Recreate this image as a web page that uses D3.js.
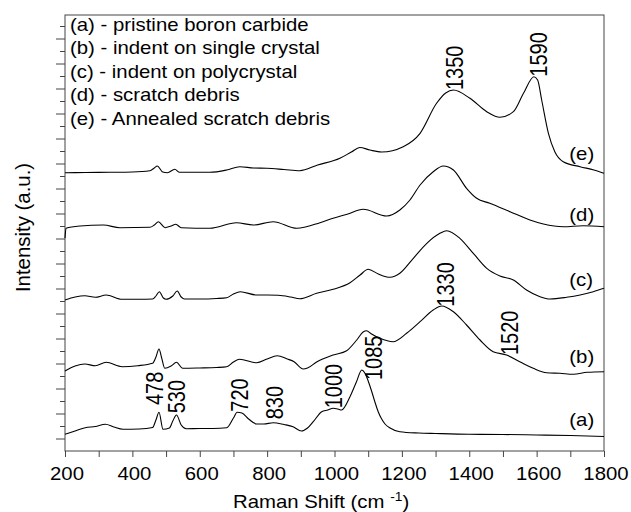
<!DOCTYPE html>
<html><head><meta charset="utf-8">
<script src="https://cdn.jsdelivr.net/npm/d3@7"></script>
<style>
body{margin:0;background:#fff}
svg{display:block}
text{font-family:"Liberation Sans",Arial,Helvetica,sans-serif;fill:#000}
</style>
</head><body>
<svg id="c" width="631" height="512"></svg>
<script>
// ---------- data ----------
const seriesNames = ["(a)", "(b)", "(c)", "(d)", "(e)"];
const legendLabels = [
  "(a) - pristine boron carbide",
  "(b) - indent on single crystal",
  "(c) - indent on polycrystal",
  "(d) - scratch debris",
  "(e) - Annealed scratch debris"
];
// [Raman shift (cm-1), intensity (a.u., offset stacked)]
const spectrumA = [[200,16.7],[230,20],[260,23.3],[290,24.5],[320,26.7],[345,24],[372,21.7],[420,22],[460,23.5],[470,31],[479,38.7],[491,21.7],[510,23],[520,30],[531,36],[545,26],[560,22.3],[600,22.5],[640,22.5],[680,23.3],[700,33],[711,38.7],[725,38],[745,32],[769,27],[790,27],[818,28.3],[850,26.5],[877,24.3],[902,20],[920,23],[937,29.3],[962,39.3],[980,41],[996,42.7],[1010,42],[1021,41],[1046,54.3],[1065,69],[1081,81],[1090,78],[1100,70],[1110,60],[1120,49],[1130,39],[1140,32],[1150,27],[1165,23],[1194,19.3],[1250,18],[1300,17.5],[1400,16.7],[1500,16.5],[1600,16],[1700,15.5],[1800,14.5]];
const spectrumB = [[200,80],[230,85],[259,87],[290,85.3],[322,88.7],[370,84.3],[416,85.3],[460,87.7],[470,94],[479,102],[487,93],[496,82.7],[515,85],[531,88.7],[549,82.7],[600,83],[650,83.5],[680,84.3],[700,89],[718,91.7],[769,88.3],[800,92],[830,95.3],[860,92],[880,89.3],[907,82],[920,83],[947,89],[996,96],[1036,100.3],[1066,111],[1085,119],[1095,120.3],[1110,117],[1135,112.7],[1174,109.3],[1214,117.7],[1254,129.3],[1293,141],[1318,145],[1353,139.3],[1392,126],[1432,111],[1471,99.3],[1511,96],[1550,89.3],[1590,82.7],[1630,78.3],[1669,77.7],[1709,76.7],[1750,78.7],[1800,79.3]];
const spectrumC = [[200,151],[230,154],[259,155.3],[290,153.7],[322,156],[370,151.7],[420,151.7],[460,152],[470,155],[480,159.3],[492,153],[500,151.7],[520,155],[533,160],[545,154],[555,152],[600,152],[650,152.5],[680,153.3],[700,157],[720,159.3],[769,156],[800,156],[833,155.7],[870,154],[897,152.3],[947,157.7],[996,161.7],[1046,168.3],[1076,176],[1100,181.7],[1130,177],[1165,173.7],[1194,177.7],[1234,192.7],[1274,207.7],[1313,217.7],[1333,220.3],[1372,212.7],[1412,197.7],[1452,182.7],[1491,175],[1531,171],[1570,161],[1610,154.3],[1640,152],[1689,153.7],[1729,156],[1768,159.3],[1800,162.7]];
const spectrumD = [[200,213],[203,222.7],[245,225],[314,226],[363,223.3],[452,223.7],[465,226],[477,229.3],[497,223.3],[515,225],[529,226.7],[545,223.3],[630,222.7],[709,228.3],[759,226],[818,229.3],[888,222.7],[957,228.3],[996,232.7],[1040,237],[1085,241.7],[1155,235],[1194,241],[1224,251],[1254,266],[1293,279.3],[1323,285],[1353,281],[1392,262.7],[1422,252.7],[1461,247.7],[1521,239.3],[1580,231],[1620,227],[1679,224.3],[1738,225.3],[1800,224.3]];
const spectrumE = [[200,278.3],[260,278.5],[334,278.7],[400,279],[452,280.3],[465,283],[474,285],[490,279],[504,278.3],[526,281.7],[540,278.7],[630,278.7],[680,281],[719,284.3],[760,283],[799,282.7],[850,281.5],[897,280.3],[950,286],[1016,292.7],[1050,299],[1075,303.5],[1105,301],[1140,299],[1204,304.3],[1254,317.7],[1303,347.7],[1330,358],[1353,361],[1402,352.7],[1452,339.3],[1491,333.7],[1531,339.3],[1561,357.7],[1592,374.3],[1603,371],[1615,351],[1635,317.7],[1654,299.3],[1679,289.3],[1729,284.3],[1770,281],[1800,277.7]];
const spectra = [spectrumA, spectrumB, spectrumC, spectrumD, spectrumE];

// peak annotations (text, centre in cm-1, start intensity)
const peakLabels = ["478", "530", "720", "830", "1000", "1085", "1330", "1520", "1350", "1590"];
const peakLabelX = [467, 531, 719, 823, 998, 1117, 1330, 1520, 1357, 1606];
const peakLabelY = [46, 37.7, 39.3, 31.7, 42.7, 71, 144.3, 96, 361, 374.3];
// curve tags at right
const seriesLabelX = 1697;
const seriesLabelY = [24.7, 88, 164.7, 229.7, 291];

const xTickValues = [200,300,400,500,600,700,800,900,1000,1100,1200,1300,1400,1500,1600,1700,1800];
const xTickLabels = ["200","400","600","800","1000","1200","1400","1600","1800"];
const xTitle = "Raman Shift (cm ";
const xTitleSup = "-1";
const yTitle = "Intensity (a.u.)";

// ---------- drawing ----------
const svg = d3.select("#c");
const L = 65, R = 604, T = 15, B = 451;
const x = d3.scaleLinear([200, 1800], [L, R]);
const y = d3.scaleLinear([0, 436], [B, T]);
const SX = 1.15, FS = 17.7, AX = "#444";

// frame
svg.append("rect").attr("x", L).attr("y", T).attr("width", R - L).attr("height", B - T)
  .attr("fill", "none").attr("stroke", AX).attr("stroke-width", 1);

// x axis
const gx = svg.append("g").attr("transform", `translate(0,${B})`)
  .call(d3.axisBottom(x).tickValues(xTickValues).tickSize(6).tickPadding(10)
    .tickFormat(d => xTickLabels.includes(String(d)) ? String(d) : ""));
gx.select(".domain").remove();
gx.selectAll("line").attr("stroke", AX);
gx.selectAll("text").attr("font-size", FS).attr("fill", "#000")
  .attr("font-family", "Liberation Sans, Arial, sans-serif")
  .attr("transform", `translate(1.5,0) scale(${SX},1)`);

// y axis ticks (no labels)
const yMajor = d3.range(12.5, 436, 25);
const yMinor = d3.range(25, 436, 25);
const gy1 = svg.append("g").attr("transform", `translate(${L},0)`)
  .call(d3.axisLeft(y).tickValues(yMajor).tickSize(9).tickFormat(""));
const gy2 = svg.append("g").attr("transform", `translate(${L},0)`)
  .call(d3.axisLeft(y).tickValues(yMinor).tickSize(5).tickFormat(""));
[gy1, gy2].forEach(g => { g.select(".domain").remove(); g.selectAll("line").attr("stroke", AX); });

// spectra
const line = d3.line().x(d => x(d[0])).y(d => y(d[1])).curve(d3.curveMonotoneX);
svg.append("g").selectAll("path").data(spectra).join("path")
  .attr("d", line).attr("fill", "none").attr("stroke", "#000").attr("stroke-width", 1.1);

// peak labels
svg.append("g").selectAll("text").data(peakLabels).join("text")
  .attr("transform", (d, i) => `translate(${x(peakLabelX[i])},${y(peakLabelY[i])}) scale(${SX},1) rotate(-90)`)
  .attr("dy", "0.36em").attr("font-size", 20).attr("text-anchor", "start").text(d => d);

// series tags
svg.append("g").selectAll("text").data(seriesNames).join("text")
  .attr("transform", (d, i) => `translate(${x(seriesLabelX)},${y(seriesLabelY[i])}) scale(${SX},1)`)
  .attr("font-size", FS).text(d => d);

// legend
svg.append("g").selectAll("text").data(legendLabels).join("text")
  .attr("transform", (d, i) => `translate(70,${31 + 23.4 * i}) scale(${SX},1)`)
  .attr("font-size", FS).text(d => d);

// axis titles
const xt = svg.append("text").attr("transform", `translate(233,508) scale(${SX},1)`).attr("font-size", FS);
xt.append("tspan").text(xTitle);
xt.append("tspan").attr("font-size", 12).attr("dy", -7).text(xTitleSup);
xt.append("tspan").attr("dy", 7).text(")");

svg.append("text").attr("transform", "translate(29.5,227.5) rotate(-90)")
  .attr("text-anchor", "middle").attr("font-size", 20.4).text(yTitle);
</script>
</body></html>
